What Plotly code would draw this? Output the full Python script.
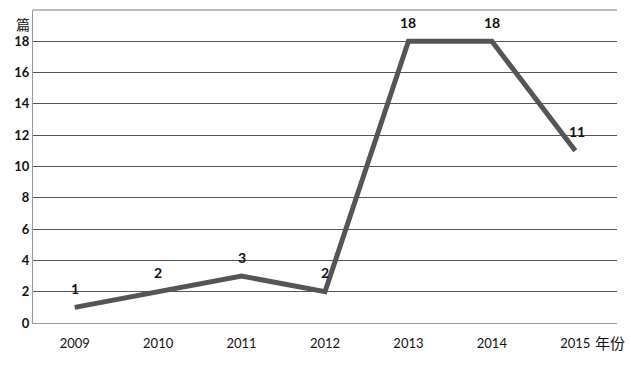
import plotly.graph_objects as go

years = ["2009", "2010", "2011", "2012", "2013", "2014", "2015"]
counts = [1, 2, 3, 2, 18, 18, 11]
y_ticks = [0, 2, 4, 6, 8, 10, 12, 14, 16, 18, 20]
y_tick_labels = ["0", "2", "4", "6", "8", "10", "12", "14", "16", "18", ""]

fig = go.Figure()
fig.add_trace(go.Scatter(
    x=years, y=counts, mode="lines",
    line=dict(color="#555555", width=5),
    showlegend=False,
))

annotations = [
    dict(x=i, y=v, xref="x", yref="y", text=str(v), showarrow=False,
         yshift=19, xshift=(2 if i == len(years) - 1 else 0),
         font=dict(family="Lato", size=14, color="#111111", weight="bold"))
    for i, v in enumerate(counts)
]
annotations += [
    dict(text="篇", xref="paper", yref="paper", x=-0.033, y=0.995,
         showarrow=False, font=dict(family="Noto Sans CJK SC", size=14, color="#111111")),
    dict(text="年份", xref="paper", yref="paper", x=0.988, y=-0.062,
         xanchor="center", yanchor="middle", showarrow=False,
         font=dict(family="Noto Sans CJK SC", size=15, color="#111111")),
]

fig.update_layout(
    width=631, height=366,
    margin=dict(l=33, r=14, t=10, b=43),
    paper_bgcolor="white", plot_bgcolor="white",
    font=dict(family="Lato", size=13, color="#111111"),
    xaxis=dict(type="category", range=[-0.5, 6.5], showgrid=False,
               showline=True, linecolor="#999999", linewidth=1,
               ticks="", tickfont=dict(size=13), ticklabelstandoff=8),
    yaxis=dict(range=[0, 20], tickvals=y_ticks, ticktext=y_tick_labels,
               showgrid=True, gridcolor="#555555", gridwidth=1,
               showline=True, linecolor="#999999", linewidth=1,
               ticks="", tickfont=dict(size=13, weight="bold"), zeroline=False),
    shapes=[dict(type="line", xref="paper", yref="paper", x0=0, x1=1, y0=1, y1=1,
                 line=dict(color="#777777", width=1))],
    annotations=annotations,
)
fig.write_html("out.html")
